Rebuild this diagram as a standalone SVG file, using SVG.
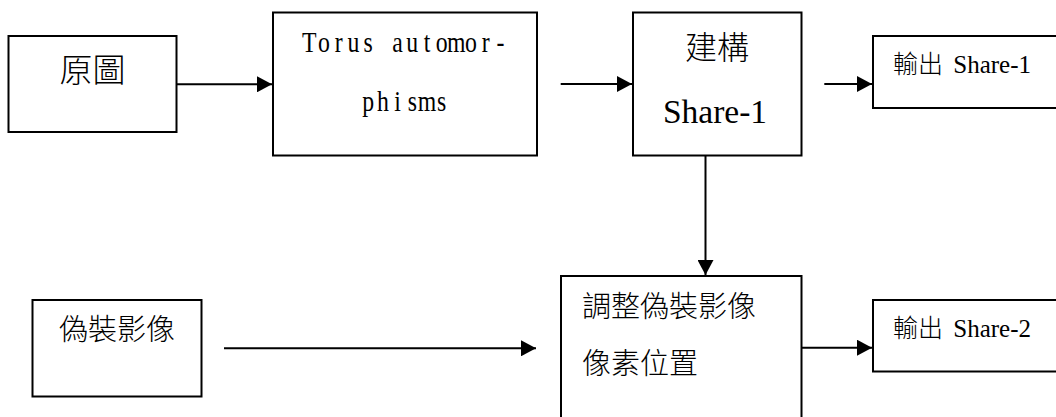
<svg xmlns="http://www.w3.org/2000/svg" width="1056" height="417" viewBox="0 0 1056 417">
  <style>
    .box { fill: #ffffff; stroke: #000000; stroke-width: 2; }
    .conn { fill: none; stroke: #000000; stroke-width: 2; }
    .cjk { font-family: "Liberation Serif", "Noto Sans CJK TC", serif; fill: #000000; font-weight: 300; }
    .mono { font-family: "Liberation Serif", serif; fill: #000000; }
  </style>
  <defs>
    <marker id="arrow" markerUnits="userSpaceOnUse" markerWidth="16" markerHeight="16" refX="15" refY="8" orient="auto">
      <path d="M0,0 L15,8 L0,16 Z" fill="#000000"/>
    </marker>
  </defs>
  <rect width="1056" height="417" fill="#ffffff"/>

  <g id="node-yuantu">
    <rect class="box" x="8.5" y="36" width="168" height="96"/>
    <text class="cjk" x="92.5" y="82" font-size="33" text-anchor="middle">原圖</text>
  </g>

  <g id="node-torus">
    <rect class="box" x="273" y="12.5" width="264" height="143"/>
    <text class="mono" transform="scale(0.82,1)" y="52" font-size="29" x="368.40 387.93 408.28 423.79 443.32 463.26 478.38 495.49 516.64 531.35 545.24 567.20 587.55 605.47">Torus automor-</text>
    <text class="mono" transform="scale(0.82,1)" y="111" font-size="29" x="441.84 459.76 480.91 497.23 509.51 533.08">phisms</text>
  </g>

  <g id="node-build">
    <rect class="box" x="633" y="12.5" width="168.5" height="143"/>
    <text class="cjk" x="717" y="59" font-size="32" text-anchor="middle">建構</text>
    <text class="cjk" x="715" y="123" font-size="33.5" text-anchor="middle">Share-1</text>
  </g>

  <g id="node-out1">
    <rect class="box" x="873" y="36" width="190" height="72"/>
    <text class="cjk" x="893" y="73" font-size="25">輸出<tspan dx="4"> Share-1</tspan></text>
  </g>

  <g id="node-camo">
    <rect class="box" x="32.5" y="300" width="169" height="96.5"/>
    <text class="cjk" x="117" y="339.5" font-size="29" text-anchor="middle">偽裝影像</text>
  </g>

  <g id="node-adjust">
    <rect class="box" x="561" y="276" width="240.5" height="150"/>
    <text class="cjk" x="582" y="316.5" font-size="29">調整偽裝影像</text>
    <text class="cjk" x="582" y="373.5" font-size="29">像素位置</text>
  </g>

  <g id="node-out2">
    <rect class="box" x="873" y="300" width="190" height="71.5"/>
    <text class="cjk" x="893" y="337" font-size="25">輸出<tspan dx="4"> Share-2</tspan></text>
  </g>

  <g id="connectors">
    <line class="conn" x1="176.5" y1="84.3" x2="272" y2="84.3" marker-end="url(#arrow)"/>
    <line class="conn" x1="560.7" y1="84" x2="632" y2="84" marker-end="url(#arrow)"/>
    <line class="conn" x1="824.3" y1="84" x2="872" y2="84" marker-end="url(#arrow)"/>
    <line class="conn" x1="705.5" y1="155.5" x2="705.5" y2="275" marker-end="url(#arrow)"/>
    <line class="conn" x1="224" y1="348.3" x2="536" y2="348.3" marker-end="url(#arrow)"/>
    <line class="conn" x1="801.5" y1="347.7" x2="872" y2="347.7" marker-end="url(#arrow)"/>
  </g>
</svg>
